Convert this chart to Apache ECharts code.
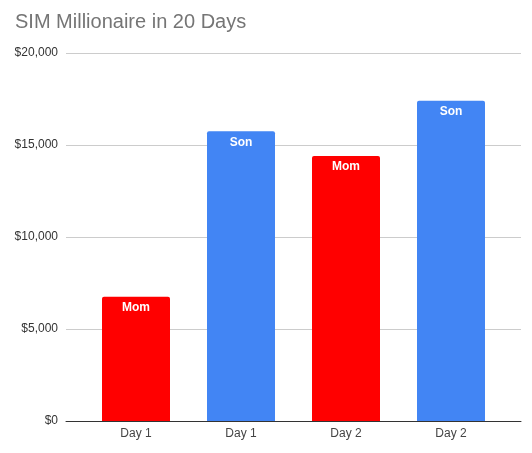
<!DOCTYPE html>
<html><head><meta charset="utf-8">
<script src="https://cdn.jsdelivr.net/npm/echarts@6/dist/echarts.min.js"></script>
<style>html,body{margin:0;padding:0;background:#fff}#c{width:532px;height:453px}</style>
</head><body><div id="c"></div>
<script>
var categories = ["Day 1", "Day 1", "Day 2", "Day 2"];
var people = ["Mom", "Son", "Mom", "Son"];
var values = [6750, 15750, 14400, 17400];
var yTicks = { min: 0, max: 20000, interval: 5000 };
var personColors = { Mom: "#ff0000", Son: "#4285f4" };

var chart = echarts.init(document.getElementById('c'));
chart.setOption({
  animation: false,
  backgroundColor: '#fff',
  title: {
    text: 'SIM Millionaire in 20 Days', left: 10, top: 7,
    textStyle: { fontFamily: 'Liberation Sans, Arial', fontSize: 20, fontWeight: 'normal', color: '#757575' }
  },
  grid: [
    { left: 66, right: 11, top: 53, bottom: 32 },
    { left: 83.5, right: 28.5, top: 53, bottom: 32 }
  ],
  xAxis: [
    { gridIndex: 0, type: 'value', min: 0, max: 1, axisLine: { show: true, lineStyle: { color: '#333', width: 1 } },
      axisTick: { show: false }, axisLabel: { show: false }, splitLine: { show: false } },
    { gridIndex: 1, type: 'category', data: categories, axisLine: { show: false }, axisTick: { show: false },
      axisLabel: { color: '#444', fontSize: 12, fontFamily: 'Liberation Sans, Arial', margin: 7 } }
  ],
  yAxis: [
    { gridIndex: 0, type: 'value', min: yTicks.min, max: yTicks.max, interval: yTicks.interval,
      axisLine: { show: false }, axisTick: { show: false },
      axisLabel: { color: '#333', fontSize: 12, fontFamily: 'Liberation Sans, Arial', margin: 8,
        formatter: function (v) { return '$' + v.toLocaleString('en-US'); } },
      splitLine: { lineStyle: { color: '#cccccc', width: 1 } } },
    { gridIndex: 1, type: 'value', min: yTicks.min, max: yTicks.max, interval: yTicks.interval, show: false, splitLine: { show: false } }
  ],
  series: [{
    type: 'bar', xAxisIndex: 1, yAxisIndex: 1, barWidth: 68,
    data: values.map(function (v, i) {
      return { value: v, name: people[i], itemStyle: { color: personColors[people[i]], borderRadius: [2, 2, 0, 0] } };
    }),
    label: { show: true, position: 'insideTop', distance: 5, color: '#fff', fontWeight: 'bold', fontSize: 12,
      fontFamily: 'Liberation Sans, Arial', formatter: function (p) { return people[p.dataIndex]; } }
  }]
});
</script></body></html>
